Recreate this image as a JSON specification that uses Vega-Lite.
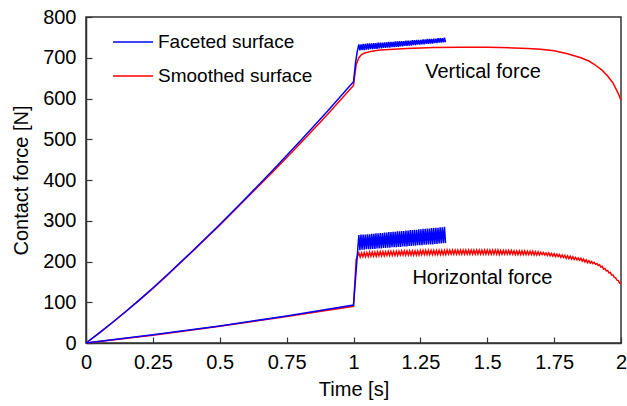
{
  "$schema": "https://vega.github.io/schema/vega-lite/v6.json",
  "width": 535,
  "height": 326,
  "autosize": {"type": "none"},
  "padding": {"left": 86, "top": 17, "right": 6, "bottom": 63},
  "config": {
    "font": "Liberation Sans",
    "view": {"stroke": "#333333", "strokeWidth": 1.5},
    "axis": {
      "grid": false,
      "domainColor": "#333333",
      "domainWidth": 1.5,
      "tickColor": "#333333",
      "tickWidth": 1.2,
      "tickSize": -6,
      "labelFont": "Liberation Sans",
      "labelFontSize": 20,
      "labelColor": "#000000",
      "titleFont": "Liberation Sans",
      "titleFontSize": 20,
      "titleFontWeight": "normal",
      "titleColor": "#000000"
    }
  },
  "datasets": {
    "facetedVertical": [
      {"t": 0, "F": 0}, {"t": 0.05, "F": 25}, {"t": 0.1, "F": 51}, {"t": 0.15, "F": 78},
      {"t": 0.2, "F": 106}, {"t": 0.25, "F": 135}, {"t": 0.3, "F": 165}, {"t": 0.4, "F": 227},
      {"t": 0.5, "F": 291}, {"t": 0.6, "F": 357}, {"t": 0.7, "F": 425},
      {"t": 0.8, "F": 495}, {"t": 0.9, "F": 567}, {"t": 1.0, "F": 641}, {"t": 1.008, "F": 690},
      {"t": 1.014, "F": 715},
      {"t": 1.02, "F": 733}, {"t": 1.024, "F": 718}, {"t": 1.028, "F": 733}, {"t": 1.032, "F": 719},
      {"t": 1.036, "F": 734}, {"t": 1.04, "F": 719}, {"t": 1.044, "F": 734}, {"t": 1.048, "F": 720},
      {"t": 1.052, "F": 735}, {"t": 1.056, "F": 720}, {"t": 1.06, "F": 735}, {"t": 1.064, "F": 721},
      {"t": 1.068, "F": 735}, {"t": 1.072, "F": 721}, {"t": 1.076, "F": 736}, {"t": 1.08, "F": 722},
      {"t": 1.084, "F": 736}, {"t": 1.088, "F": 722}, {"t": 1.092, "F": 737}, {"t": 1.096, "F": 723},
      {"t": 1.1, "F": 737}, {"t": 1.104, "F": 723}, {"t": 1.108, "F": 737}, {"t": 1.112, "F": 724},
      {"t": 1.116, "F": 738}, {"t": 1.12, "F": 724}, {"t": 1.124, "F": 738}, {"t": 1.128, "F": 725},
      {"t": 1.132, "F": 739}, {"t": 1.136, "F": 725}, {"t": 1.14, "F": 739}, {"t": 1.144, "F": 726},
      {"t": 1.148, "F": 739}, {"t": 1.152, "F": 726}, {"t": 1.156, "F": 740}, {"t": 1.16, "F": 727},
      {"t": 1.164, "F": 740}, {"t": 1.168, "F": 727}, {"t": 1.172, "F": 741}, {"t": 1.176, "F": 728},
      {"t": 1.18, "F": 741}, {"t": 1.184, "F": 728}, {"t": 1.188, "F": 741}, {"t": 1.192, "F": 729},
      {"t": 1.196, "F": 742}, {"t": 1.2, "F": 729}, {"t": 1.204, "F": 742}, {"t": 1.208, "F": 730},
      {"t": 1.212, "F": 742}, {"t": 1.216, "F": 730}, {"t": 1.22, "F": 743}, {"t": 1.224, "F": 731},
      {"t": 1.228, "F": 743}, {"t": 1.232, "F": 731}, {"t": 1.236, "F": 744}, {"t": 1.24, "F": 732},
      {"t": 1.244, "F": 744}, {"t": 1.248, "F": 732}, {"t": 1.252, "F": 744}, {"t": 1.256, "F": 733},
      {"t": 1.26, "F": 745}, {"t": 1.264, "F": 733}, {"t": 1.268, "F": 745}, {"t": 1.272, "F": 734},
      {"t": 1.276, "F": 746}, {"t": 1.28, "F": 734}, {"t": 1.284, "F": 746}, {"t": 1.288, "F": 735},
      {"t": 1.292, "F": 746}, {"t": 1.296, "F": 735}, {"t": 1.3, "F": 747}, {"t": 1.304, "F": 736},
      {"t": 1.308, "F": 747}, {"t": 1.312, "F": 736}, {"t": 1.316, "F": 748}, {"t": 1.32, "F": 737},
      {"t": 1.324, "F": 748}, {"t": 1.328, "F": 737}, {"t": 1.332, "F": 748}, {"t": 1.336, "F": 738},
      {"t": 1.34, "F": 749}, {"t": 1.344, "F": 738}
    ],
    "facetedHorizontal": [
      {"t": 0, "F": 0}, {"t": 0.25, "F": 20}, {"t": 0.5, "F": 42}, {"t": 0.75, "F": 66},
      {"t": 1.0, "F": 93},
      {"t": 1.02, "F": 265}, {"t": 1.024, "F": 228}, {"t": 1.028, "F": 266}, {"t": 1.032, "F": 229},
      {"t": 1.036, "F": 266}, {"t": 1.04, "F": 229}, {"t": 1.044, "F": 266}, {"t": 1.048, "F": 230},
      {"t": 1.052, "F": 267}, {"t": 1.056, "F": 230}, {"t": 1.06, "F": 267}, {"t": 1.064, "F": 230},
      {"t": 1.068, "F": 268}, {"t": 1.072, "F": 231}, {"t": 1.076, "F": 268}, {"t": 1.08, "F": 231},
      {"t": 1.084, "F": 269}, {"t": 1.088, "F": 232}, {"t": 1.092, "F": 269}, {"t": 1.096, "F": 232},
      {"t": 1.1, "F": 270}, {"t": 1.104, "F": 232}, {"t": 1.108, "F": 270}, {"t": 1.112, "F": 233},
      {"t": 1.116, "F": 271}, {"t": 1.12, "F": 233}, {"t": 1.124, "F": 271}, {"t": 1.128, "F": 234},
      {"t": 1.132, "F": 272}, {"t": 1.136, "F": 234}, {"t": 1.14, "F": 272}, {"t": 1.144, "F": 235},
      {"t": 1.148, "F": 273}, {"t": 1.152, "F": 235}, {"t": 1.156, "F": 273}, {"t": 1.16, "F": 235},
      {"t": 1.164, "F": 274}, {"t": 1.168, "F": 236}, {"t": 1.172, "F": 274}, {"t": 1.176, "F": 236},
      {"t": 1.18, "F": 275}, {"t": 1.184, "F": 237}, {"t": 1.188, "F": 275}, {"t": 1.192, "F": 237},
      {"t": 1.196, "F": 276}, {"t": 1.2, "F": 237}, {"t": 1.204, "F": 276}, {"t": 1.208, "F": 238},
      {"t": 1.212, "F": 277}, {"t": 1.216, "F": 238}, {"t": 1.22, "F": 277}, {"t": 1.224, "F": 239},
      {"t": 1.228, "F": 278}, {"t": 1.232, "F": 239}, {"t": 1.236, "F": 278}, {"t": 1.24, "F": 240},
      {"t": 1.244, "F": 279}, {"t": 1.248, "F": 240}, {"t": 1.252, "F": 279}, {"t": 1.256, "F": 240},
      {"t": 1.26, "F": 280}, {"t": 1.264, "F": 241}, {"t": 1.268, "F": 280}, {"t": 1.272, "F": 241},
      {"t": 1.276, "F": 281}, {"t": 1.28, "F": 242}, {"t": 1.284, "F": 281}, {"t": 1.288, "F": 242},
      {"t": 1.292, "F": 282}, {"t": 1.296, "F": 242}, {"t": 1.3, "F": 282}, {"t": 1.304, "F": 243},
      {"t": 1.308, "F": 283}, {"t": 1.312, "F": 243}, {"t": 1.316, "F": 283}, {"t": 1.32, "F": 244},
      {"t": 1.324, "F": 284}, {"t": 1.328, "F": 244}, {"t": 1.332, "F": 284}, {"t": 1.336, "F": 245},
      {"t": 1.34, "F": 285}, {"t": 1.344, "F": 245}
    ],
    "smoothedVertical": [
      {"t": 0, "F": 0}, {"t": 0.05, "F": 25}, {"t": 0.1, "F": 51}, {"t": 0.15, "F": 78},
      {"t": 0.2, "F": 106}, {"t": 0.25, "F": 134}, {"t": 0.3, "F": 164}, {"t": 0.4, "F": 226},
      {"t": 0.5, "F": 289}, {"t": 0.6, "F": 355}, {"t": 0.7, "F": 421},
      {"t": 0.8, "F": 489}, {"t": 0.9, "F": 559}, {"t": 1.0, "F": 632}, {"t": 1.01, "F": 683},
      {"t": 1.02, "F": 700}, {"t": 1.03, "F": 708}, {"t": 1.04, "F": 711}, {"t": 1.06, "F": 715},
      {"t": 1.08, "F": 717}, {"t": 1.1, "F": 719}, {"t": 1.15, "F": 721}, {"t": 1.2, "F": 723},
      {"t": 1.3, "F": 725}, {"t": 1.4, "F": 726}, {"t": 1.5, "F": 726}, {"t": 1.55, "F": 725},
      {"t": 1.6, "F": 724}, {"t": 1.65, "F": 723}, {"t": 1.7, "F": 721}, {"t": 1.75, "F": 717},
      {"t": 1.8, "F": 710}, {"t": 1.85, "F": 700}, {"t": 1.88, "F": 692}, {"t": 1.9, "F": 684},
      {"t": 1.93, "F": 669}, {"t": 1.95, "F": 655}, {"t": 1.97, "F": 638}, {"t": 1.99, "F": 612},
      {"t": 2.0, "F": 596}
    ],
    "smoothedHorizontal": [
      {"t": 0, "F": 0}, {"t": 0.25, "F": 19}, {"t": 0.5, "F": 41}, {"t": 0.75, "F": 65},
      {"t": 1.0, "F": 90}, {"t": 1.01, "F": 205},
      {"t": 1.02, "F": 221}, {"t": 1.025, "F": 211}, {"t": 1.03, "F": 221}, {"t": 1.035, "F": 212},
      {"t": 1.04, "F": 222}, {"t": 1.045, "F": 212}, {"t": 1.05, "F": 222}, {"t": 1.055, "F": 212},
      {"t": 1.06, "F": 223}, {"t": 1.065, "F": 213}, {"t": 1.07, "F": 223}, {"t": 1.075, "F": 213},
      {"t": 1.08, "F": 223}, {"t": 1.085, "F": 213}, {"t": 1.09, "F": 224}, {"t": 1.095, "F": 214},
      {"t": 1.1, "F": 224}, {"t": 1.105, "F": 214}, {"t": 1.11, "F": 224}, {"t": 1.115, "F": 214},
      {"t": 1.12, "F": 224}, {"t": 1.125, "F": 215}, {"t": 1.13, "F": 225}, {"t": 1.135, "F": 215},
      {"t": 1.14, "F": 225}, {"t": 1.145, "F": 215}, {"t": 1.15, "F": 225}, {"t": 1.155, "F": 215},
      {"t": 1.16, "F": 225}, {"t": 1.165, "F": 215}, {"t": 1.17, "F": 225}, {"t": 1.175, "F": 216},
      {"t": 1.18, "F": 226}, {"t": 1.185, "F": 216}, {"t": 1.19, "F": 226}, {"t": 1.195, "F": 216},
      {"t": 1.2, "F": 226}, {"t": 1.205, "F": 216}, {"t": 1.21, "F": 226}, {"t": 1.215, "F": 216},
      {"t": 1.22, "F": 226}, {"t": 1.225, "F": 216}, {"t": 1.23, "F": 226}, {"t": 1.235, "F": 216},
      {"t": 1.24, "F": 226}, {"t": 1.245, "F": 216}, {"t": 1.25, "F": 227}, {"t": 1.255, "F": 217},
      {"t": 1.26, "F": 227}, {"t": 1.265, "F": 217}, {"t": 1.27, "F": 227}, {"t": 1.275, "F": 217},
      {"t": 1.28, "F": 227}, {"t": 1.285, "F": 217}, {"t": 1.29, "F": 227}, {"t": 1.295, "F": 217},
      {"t": 1.3, "F": 227}, {"t": 1.305, "F": 217}, {"t": 1.31, "F": 227}, {"t": 1.315, "F": 217},
      {"t": 1.32, "F": 227}, {"t": 1.325, "F": 217}, {"t": 1.33, "F": 227}, {"t": 1.335, "F": 217},
      {"t": 1.34, "F": 227}, {"t": 1.345, "F": 217}, {"t": 1.35, "F": 228}, {"t": 1.355, "F": 218},
      {"t": 1.36, "F": 228}, {"t": 1.365, "F": 218}, {"t": 1.37, "F": 228}, {"t": 1.375, "F": 218},
      {"t": 1.38, "F": 228}, {"t": 1.385, "F": 218}, {"t": 1.39, "F": 228}, {"t": 1.395, "F": 218},
      {"t": 1.4, "F": 228}, {"t": 1.405, "F": 218}, {"t": 1.41, "F": 228}, {"t": 1.415, "F": 218},
      {"t": 1.42, "F": 228}, {"t": 1.425, "F": 218}, {"t": 1.43, "F": 228}, {"t": 1.435, "F": 218},
      {"t": 1.44, "F": 228}, {"t": 1.445, "F": 218}, {"t": 1.45, "F": 228}, {"t": 1.455, "F": 218},
      {"t": 1.46, "F": 228}, {"t": 1.465, "F": 218}, {"t": 1.47, "F": 228}, {"t": 1.475, "F": 218},
      {"t": 1.48, "F": 228}, {"t": 1.485, "F": 218}, {"t": 1.49, "F": 228}, {"t": 1.495, "F": 218},
      {"t": 1.5, "F": 228}, {"t": 1.505, "F": 218}, {"t": 1.51, "F": 228}, {"t": 1.515, "F": 218},
      {"t": 1.52, "F": 228}, {"t": 1.525, "F": 218}, {"t": 1.53, "F": 228}, {"t": 1.535, "F": 218},
      {"t": 1.54, "F": 228}, {"t": 1.545, "F": 217}, {"t": 1.55, "F": 227}, {"t": 1.555, "F": 218},
      {"t": 1.56, "F": 227}, {"t": 1.565, "F": 218}, {"t": 1.57, "F": 227}, {"t": 1.575, "F": 218},
      {"t": 1.58, "F": 227}, {"t": 1.585, "F": 218}, {"t": 1.59, "F": 227}, {"t": 1.595, "F": 218},
      {"t": 1.6, "F": 226}, {"t": 1.605, "F": 217}, {"t": 1.61, "F": 226}, {"t": 1.615, "F": 217},
      {"t": 1.62, "F": 226}, {"t": 1.625, "F": 217}, {"t": 1.63, "F": 226}, {"t": 1.635, "F": 217},
      {"t": 1.64, "F": 226}, {"t": 1.645, "F": 217}, {"t": 1.65, "F": 225}, {"t": 1.655, "F": 217},
      {"t": 1.66, "F": 225}, {"t": 1.665, "F": 217}, {"t": 1.67, "F": 225}, {"t": 1.675, "F": 216},
      {"t": 1.68, "F": 224}, {"t": 1.685, "F": 216}, {"t": 1.69, "F": 224}, {"t": 1.695, "F": 216},
      {"t": 1.7, "F": 223}, {"t": 1.705, "F": 217}, {"t": 1.71, "F": 222}, {"t": 1.715, "F": 216},
      {"t": 1.72, "F": 221}, {"t": 1.725, "F": 215}, {"t": 1.73, "F": 221}, {"t": 1.735, "F": 214},
      {"t": 1.74, "F": 220}, {"t": 1.745, "F": 213}, {"t": 1.75, "F": 219}, {"t": 1.755, "F": 212},
      {"t": 1.76, "F": 218}, {"t": 1.765, "F": 212}, {"t": 1.77, "F": 217}, {"t": 1.775, "F": 210},
      {"t": 1.78, "F": 216}, {"t": 1.785, "F": 210}, {"t": 1.79, "F": 215}, {"t": 1.795, "F": 208},
      {"t": 1.8, "F": 214}, {"t": 1.805, "F": 207}, {"t": 1.81, "F": 213}, {"t": 1.815, "F": 206},
      {"t": 1.82, "F": 212}, {"t": 1.825, "F": 205}, {"t": 1.83, "F": 210}, {"t": 1.835, "F": 204},
      {"t": 1.84, "F": 209}, {"t": 1.845, "F": 203}, {"t": 1.85, "F": 208}, {"t": 1.855, "F": 201},
      {"t": 1.86, "F": 206}, {"t": 1.865, "F": 199}, {"t": 1.87, "F": 204}, {"t": 1.875, "F": 197},
      {"t": 1.88, "F": 202}, {"t": 1.885, "F": 196}, {"t": 1.89, "F": 200}, {"t": 1.895, "F": 195},
      {"t": 1.9, "F": 198}, {"t": 1.905, "F": 193}, {"t": 1.91, "F": 195}, {"t": 1.915, "F": 190},
      {"t": 1.92, "F": 192}, {"t": 1.925, "F": 186}, {"t": 1.93, "F": 188}, {"t": 1.935, "F": 181},
      {"t": 1.94, "F": 183}, {"t": 1.945, "F": 177}, {"t": 1.95, "F": 178}, {"t": 1.955, "F": 172},
      {"t": 1.96, "F": 173}, {"t": 1.965, "F": 167}, {"t": 1.97, "F": 167}, {"t": 1.975, "F": 161},
      {"t": 1.98, "F": 160}, {"t": 1.985, "F": 154}, {"t": 1.99, "F": 153}, {"t": 1.995, "F": 147},
      {"t": 2.0, "F": 145}
    ],
    "labels": [
      {"t": 1.484, "F": 665, "text": "Vertical force"},
      {"t": 1.482, "F": 160, "text": "Horizontal force"}
    ]
  },
  "encoding": {
    "x": {
      "field": "t",
      "type": "quantitative",
      "scale": {"domain": [0, 2], "nice": false, "zero": false},
      "axis": {
        "title": "Time [s]",
        "values": [0, 0.25, 0.5, 0.75, 1, 1.25, 1.5, 1.75, 2],
        "format": ".2~f",
        "labelPadding": 15,
        "titlePadding": 7,
        "labelFlush": false
      }
    },
    "y": {
      "field": "F",
      "type": "quantitative",
      "scale": {"domain": [0, 800], "nice": false},
      "axis": {
        "title": "Contact force [N]",
        "values": [0, 100, 200, 300, 400, 500, 600, 700, 800],
        "labelPadding": 16,
        "titlePadding": 11,
        "labelFlush": false
      }
    }
  },
  "layer": [
    {
      "data": {"name": "smoothedVertical"},
      "mark": {"type": "line", "strokeWidth": 1.5},
      "encoding": {
        "color": {
          "datum": "Smoothed surface",
          "scale": {"domain": ["Faceted surface", "Smoothed surface"], "range": ["#0000ff", "#ff0000"]},
          "legend": {
            "title": null,
            "orient": "none",
            "legendX": 26,
            "legendY": 4,
            "symbolType": "stroke",
            "symbolSize": 1600,
            "symbolStrokeWidth": 1.5,
            "labelFont": "Liberation Sans",
            "labelFontSize": 19,
            "labelColor": "#000000",
            "labelOffset": 4,
            "rowPadding": 3
          }
        }
      }
    },
    {
      "data": {"name": "smoothedHorizontal"},
      "mark": {"type": "line", "strokeWidth": 1.5},
      "encoding": {"color": {"datum": "Smoothed surface"}}
    },
    {
      "data": {"name": "facetedVertical"},
      "mark": {"type": "line", "strokeWidth": 1.5},
      "encoding": {"color": {"datum": "Faceted surface"}}
    },
    {
      "data": {"name": "facetedHorizontal"},
      "mark": {"type": "line", "strokeWidth": 1.5},
      "encoding": {"color": {"datum": "Faceted surface"}}
    },
    {
      "data": {"name": "labels"},
      "mark": {"type": "text", "fontSize": 20, "font": "Liberation Sans", "color": "#000000", "align": "center", "baseline": "middle"},
      "encoding": {"text": {"field": "text", "type": "nominal"}}
    }
  ]
}
